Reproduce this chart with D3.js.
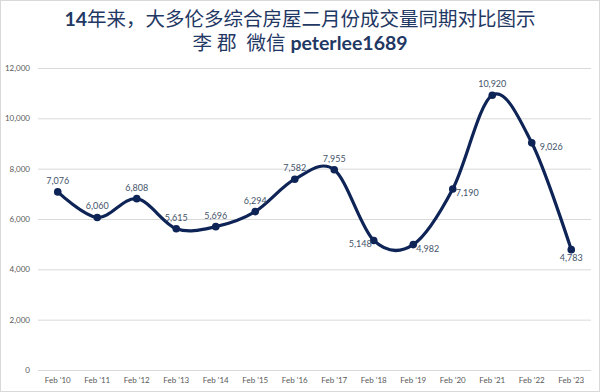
<!DOCTYPE html>
<html><head><meta charset="utf-8">
<script src="https://cdn.jsdelivr.net/npm/d3@7"></script>
<style>
body{margin:0;background:#fff;}
svg{display:block;}
</style></head><body>
<svg id="chart" width="600" height="392"></svg>
<script>
const categories = ["Feb '10","Feb '11","Feb '12","Feb '13","Feb '14","Feb '15","Feb '16","Feb '17","Feb '18","Feb '19","Feb '20","Feb '21","Feb '22","Feb '23"];
const sales = [7076,6060,6808,5615,5696,6294,7582,7955,5148,4982,7190,10920,9026,4783];
const yTicks = [0,2000,4000,6000,8000,10000,12000];
const labelPos = ["t","t","t","t","t","t","t","t","bl","br","br","t","r","b"];
const titleLine1 = "14年来，大多伦多综合房屋二月份成交量同期对比图示";
const titleLine2a = "李 郡  微信 ";
const titleLine2b = "peterlee1689";

const svg = d3.select("#chart");
const W = 600, H = 392;
const font = "Lato, 'Noto Sans CJK SC', sans-serif";
svg.append("rect").attr("x",0.5).attr("y",0.5).attr("width",W-1).attr("height",H-1)
  .attr("fill","#fff").attr("stroke","#d9d9d9");

const x = d3.scaleBand().domain(categories).range([38,591]);
const y = d3.scaleLinear().domain([0,12000]).range([370,68]);

// gridlines
svg.append("g").selectAll("line").data(yTicks).join("line")
  .attr("x1",38).attr("x2",591)
  .attr("y1",d=>y(d)+0.5).attr("y2",d=>y(d)+0.5)
  .attr("stroke","#d9d9d9").attr("stroke-width",1);

// y axis
const yAxis = d3.axisLeft(y).tickValues(yTicks).tickSize(0).tickPadding(0).tickFormat(d3.format(","));
const gy = svg.append("g").attr("transform","translate(30,0)").call(yAxis);
gy.select(".domain").remove();
gy.selectAll("text").attr("fill","#595959").style("font-family",font).style("font-size","8px");

// x axis
const xAxis = d3.axisBottom(x).tickSize(0).tickPadding(0);
const gx = svg.append("g").attr("transform","translate(0,377)").call(xAxis);
gx.select(".domain").remove();
gx.selectAll("text").attr("fill","#595959").style("font-family",font).style("font-size","8px");

// title
const tg = svg.append("g").attr("fill","#1f3864").style("font-family",font);
const t1 = tg.append("text").attr("x",300).attr("y",26).attr("text-anchor","middle").style("font-size","19.5px");
t1.append("tspan").attr("font-weight","bold").text(titleLine1.slice(0,2));
t1.append("tspan").text(titleLine1.slice(2));
const t2 = tg.append("text").attr("x",300).attr("y",50).attr("text-anchor","middle").style("font-size","19.5px")
  .attr("xml:space","preserve").style("white-space","pre");
t2.append("tspan").text(titleLine2a);
t2.append("tspan").attr("font-weight","bold").text(titleLine2b);

// line
const cx = (d,i)=>x(categories[i])+x.bandwidth()/2;
const line = d3.line().x((d,i)=>cx(d,i)).y(d=>y(d)).curve(d3.curveCardinal.tension(0));
svg.append("path").datum(sales).attr("d",line)
  .attr("fill","none").attr("stroke","#0e2457").attr("stroke-width",3.2)
  .attr("stroke-linejoin","round");

svg.append("g").selectAll("circle").data(sales).join("circle")
  .attr("cx",(d,i)=>cx(d,i)).attr("cy",d=>y(d)).attr("r",3.8).attr("fill","#0e2457");

// labels
const off = {t:[0,-8,"middle"], b:[0,11,"middle"], bl:[-2,7,"end"], br:[3,7,"start"], r:[8,7,"start"]};
svg.append("g").selectAll("text").data(sales).join("text")
  .attr("x",(d,i)=>cx(d,i)+off[labelPos[i]][0])
  .attr("y",(d,i)=>y(d)+off[labelPos[i]][1])
  .attr("text-anchor",(d,i)=>off[labelPos[i]][2])
  .attr("fill","#44546a").style("font-family",font).style("font-size","9px")
  .text(d=>d3.format(",")(d));
</script>
</body></html>
